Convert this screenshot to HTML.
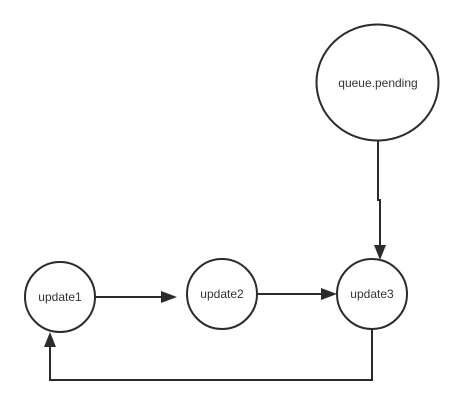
<!DOCTYPE html>
<html><head><style>body{margin:0;background:#fff}</style></head><body>
<svg width="464" height="405" xmlns="http://www.w3.org/2000/svg" style="display:block">
<g fill="none" stroke="#2b2b2b" stroke-width="2">
<ellipse cx="377.5" cy="82.5" rx="61" ry="58"/>
<circle cx="60" cy="297" r="35"/>
<circle cx="222" cy="294" r="35"/>
<circle cx="372" cy="294" r="35"/>
<polyline points="378,141 378,200 380,200 380,246"/>
<line x1="95" y1="297" x2="162" y2="297"/>
<line x1="257" y1="294" x2="322" y2="294"/>
<polyline points="372,329 372,380 50,380 50,346"/>
</g>
<g fill="#2b2b2b">
<polygon points="374,245 386,245 380,260"/>
<polygon points="161,291 161,303 177,297"/>
<polygon points="321,288 321,300 337,294"/>
<polygon points="44,347 56,347 50,332"/>
</g>
<g font-family="Liberation Sans, sans-serif" font-size="12" fill="#333" text-anchor="middle">
<text x="378" y="87">queue.pending</text>
<text x="60" y="301">update1</text>
<text x="222" y="298">update2</text>
<text x="372" y="298">update3</text>
</g>
</svg>
</body></html>
